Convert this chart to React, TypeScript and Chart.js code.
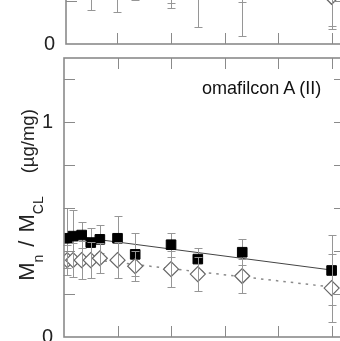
import React, { useEffect, useRef } from "react";
import { Chart, registerables } from "chart.js";

Chart.register(...registerables);

// ---- data ----
const times = [0.06, 0.17, 0.33, 0.5, 0.67, 1.0, 1.33, 2.0, 2.5, 3.33, 5.0];

// lower panel: omafilcon A (II)
const lowerSquares = [0.46, 0.47, 0.475, 0.44, 0.455, 0.46, 0.385, 0.43, 0.363, 0.395, 0.31];
const lowerSquaresErr = [0.14, 0.12, 0.06, 0.07, 0.065, 0.105, 0.1, 0.056, 0.05, 0.06, 0.163];
const lowerDiamonds = [0.358, 0.358, 0.358, 0.358, 0.367, 0.358, 0.33, 0.316, 0.293, 0.284, 0.228];
const lowerDiamondsErr = [0.07, 0.08, 0.09, 0.085, 0.07, 0.085, 0.07, 0.085, 0.08, 0.08, 0.158];
const fitX = [0.06, 5.0];
const lowerFitSolid = [0.473, 0.312];
const lowerFitDotted = [0.374, 0.233];

// upper panel (only its lowest strip is visible)
const upperSquares = [0.62, 0.6, 0.58, 0.56, 0.55, 0.5, 0.48, 0.42, 0.45, 0.4, 0.3];
const upperSquaresErr = [0.1, 0.1, 0.1, 0.1, 0.1, 0.1, 0.1, 0.23, 0.1, 0.205, 0.216];
const upperDiamonds = [0.45, 0.44, 0.42, 0.36, 0.4, 0.34, 0.34, 0.33, 0.31, 0.3, 0.22];
const upperDiamondsErr = [0.1, 0.1, 0.1, 0.2, 0.1, 0.19, 0.135, 0.163, 0.231, 0.263, 0.15];
const upperFitSolid = [0.6, 0.33];
const upperFitDotted = [0.42, 0.24];

const yTickValues = [0, 0.2, 0.4, 0.6, 0.8, 1.0, 1.2];
const yTickLabels = ["0", "", "", "", "", "1", ""];
const xTickValues = [0, 1, 2, 3, 4, 5];

const panelTitle = "omafilcon A (II)";

// ---- styles ----
const FONT = '"Liberation Sans", Arial, Helvetica, sans-serif';
const AXIS = "#8a8a8a";
const ERR = "#969696";

const frameAndTicks = {
  id: "frameAndTicks",
  afterDatasetsDraw(chart: any) {
    const { ctx, chartArea: a } = chart;
    const x = chart.scales.x;
    const y = chart.scales.y;
    const L = 11;
    ctx.save();
    ctx.strokeStyle = AXIS;
    ctx.lineWidth = 1;
    ctx.beginPath();
    x.ticks.forEach((t: any) => {
      const px = Math.round(x.getPixelForValue(t.value)) + 0.5;
      if (px <= a.left + 2 || px >= a.right - 2) return;
      ctx.moveTo(px, a.bottom);
      ctx.lineTo(px, a.bottom - L);
      ctx.moveTo(px, a.top);
      ctx.lineTo(px, a.top + L);
    });
    y.ticks.forEach((t: any) => {
      const py = Math.round(y.getPixelForValue(t.value)) + 0.5;
      if (py <= a.top + 2 || py >= a.bottom - 2) return;
      ctx.moveTo(a.left, py);
      ctx.lineTo(a.left + L, py);
      ctx.moveTo(a.right, py);
      ctx.lineTo(a.right - L, py);
    });
    ctx.stroke();
    ctx.lineWidth = 1.6;
    ctx.strokeRect(a.left, a.top, a.right - a.left, a.bottom - a.top);
    ctx.restore();
  },
};

function drawErrors(chart: any, index: number) {
  const ds = chart.data.datasets[index];
  if (!ds.errors) return;
  const { ctx } = chart;
  const x = chart.scales.x;
  const y = chart.scales.y;
  ctx.save();
  ctx.strokeStyle = ERR;
  ctx.lineWidth = 1;
  ctx.beginPath();
  ds.data.forEach((p: any, i: number) => {
    const e = ds.errors[i];
    const px = Math.round(x.getPixelForValue(p.x)) + 0.5;
    const top = Math.round(y.getPixelForValue(p.y + e)) + 0.5;
    const bot = Math.round(y.getPixelForValue(p.y - e)) + 0.5;
    ctx.moveTo(px, top);
    ctx.lineTo(px, bot);
    ctx.moveTo(px - 4, top);
    ctx.lineTo(px + 4, top);
    ctx.moveTo(px - 4, bot);
    ctx.lineTo(px + 4, bot);
  });
  ctx.stroke();
  ctx.restore();
}

const errorBars = {
  id: "errorBars",
  beforeDatasetDraw(chart: any, args: any) {
    const ds = chart.data.datasets[args.index];
    if (ds.errors && !ds.errorsAbove) drawErrors(chart, args.index);
  },
  afterDatasetDraw(chart: any, args: any) {
    const ds = chart.data.datasets[args.index];
    if (ds.errors && ds.errorsAbove) drawErrors(chart, args.index);
  },
};

type PanelProps = {
  squares: number[];
  squaresErr: number[];
  diamonds: number[];
  diamondsErr: number[];
  fitSolid: number[];
  fitDotted: number[];
  xMin: number;
  xMax: number;
  leftWidth: number;
  padTop: number;
  width: number;
  height: number;
  padRight: number;
  showXLabels: boolean;
  style: React.CSSProperties;
};

function Panel(props: PanelProps) {
  const ref = useRef<HTMLCanvasElement>(null);
  useEffect(() => {
    const canvas = ref.current;
    if (!canvas) return;
    const pts = (ys: number[]) => ys.map((v, i) => ({ x: times[i], y: v }));
    const fit = (ys: number[]) => ys.map((v, i) => ({ x: fitX[i], y: v }));
    const chart = new Chart(canvas, {
      type: "scatter",
      data: {
        datasets: [
          {
            label: "diamonds",
            data: pts(props.diamonds),
            errors: props.diamondsErr,
            errorsAbove: true,
            pointStyle: "rectRot",
            pointRadius: 7.5,
            backgroundColor: "rgba(255,255,255,1)",
            borderColor: "#666",
            borderWidth: 1.2,
            showLine: false,
            order: 0,
          } as any,
          {
            label: "squares",
            data: pts(props.squares),
            errors: props.squaresErr,
            pointStyle: "rect",
            pointRadius: 6.8,
            backgroundColor: "#000",
            borderColor: "#000",
            borderWidth: 1,
            showLine: false,
            order: 1,
          } as any,
          {
            type: "line",
            label: "fit solid",
            data: fit(props.fitSolid),
            borderColor: "#444",
            borderWidth: 1,
            pointRadius: 0,
            fill: false,
            order: 2,
          } as any,
          {
            type: "line",
            label: "fit dotted",
            data: fit(props.fitDotted),
            borderColor: "#8a8a8a",
            borderWidth: 1.5,
            borderDash: [2.5, 5],
            pointRadius: 0,
            fill: false,
            order: 3,
          } as any,
        ],
      },
      options: {
        responsive: false,
        animation: false,
        devicePixelRatio: 1,
        layout: { padding: { top: props.padTop, right: props.padRight, left: 0, bottom: 0 } },
        plugins: { legend: { display: false }, tooltip: { enabled: false } },
        scales: {
          x: {
            type: "linear",
            min: props.xMin,
            max: props.xMax,
            afterBuildTicks: (s: any) => {
              s.ticks = xTickValues.filter((v) => v >= props.xMin && v <= props.xMax).map((v) => ({ value: v }));
            },
            ticks: {
              display: props.showXLabels,
              callback: (v: any) => String(v),
              font: { family: FONT, size: 20 },
              color: "#222",
              padding: 12,
              maxRotation: 0,
              autoSkip: false,
            },
            grid: { display: false },
            border: { display: false },
            afterFit: (s: any) => {
              s.height = 40;
            },
          },
          y: {
            type: "linear",
            min: 0,
            max: 1.3,
            afterBuildTicks: (s: any) => {
              s.ticks = yTickValues.map((v) => ({ value: v }));
            },
            ticks: {
              callback: (v: any) => {
                const i = yTickValues.findIndex((t) => Math.abs(t - Number(v)) < 1e-6);
                return i >= 0 ? yTickLabels[i] : "";
              },
              font: { family: FONT, size: 20 },
              color: "#222",
              padding: 3,
              autoSkip: false,
            },
            grid: { display: false },
            border: { display: false },
            afterFit: (s: any) => {
              s.width = props.leftWidth;
            },
          },
        },
      } as any,
      plugins: [errorBars, frameAndTicks],
    });
    return () => chart.destroy();
  }, []);
  return <canvas ref={ref} width={props.width} height={props.height} style={{ position: "absolute", display: "block", width: props.width, height: props.height, ...props.style }} />;
}

const subStyle: React.CSSProperties = { fontSize: 14, position: "relative", top: 8.5 };

export default function App() {
  return (
    <div
      style={{
        position: "fixed",
        left: 0,
        top: 0,
        width: 340,
        height: 341,
        overflow: "hidden",
        background: "#fff",
      }}
    >
      <Panel
        squares={upperSquares}
        squaresErr={upperSquaresErr}
        diamonds={upperDiamonds}
        diamondsErr={upperDiamondsErr}
        fitSolid={upperFitSolid}
        fitDotted={upperFitDotted}
        xMin={0.04}
        xMax={5.25}
        leftWidth={66}
        padTop={15}
        padRight={35}
        width={380}
        height={334}
        showXLabels={false}
        style={{ left: 0, top: -250 }}
      />
      <Panel
        squares={lowerSquares}
        squaresErr={lowerSquaresErr}
        diamonds={lowerDiamonds}
        diamondsErr={lowerDiamondsErr}
        fitSolid={lowerFitSolid}
        fitDotted={lowerFitDotted}
        xMin={0}
        xMax={5.25}
        leftWidth={64}
        padTop={58}
        padRight={35}
        width={380}
        height={377}
        showXLabels={true}
        style={{ left: 0, top: 0 }}
      />
      <div
        style={{
          position: "absolute",
          left: 202,
          top: 78,
          fontFamily: FONT,
          fontSize: 19,
          lineHeight: "19px",
          color: "#111",
          whiteSpace: "pre",
          transform: "scaleX(0.95)",
          transformOrigin: "left center",
        }}
      >
        {panelTitle}
      </div>
      <div
        style={{
          position: "absolute",
          left: 26.8 - 120,
          top: 195 - 15,
          width: 240,
          height: 30,
          lineHeight: "30px",
          textAlign: "center",
          transform: "rotate(-90deg)",
          fontFamily: FONT,
          fontSize: 22,
          color: "#222",
          whiteSpace: "pre",
        }}
      >
        M<span style={subStyle}>n</span>
        <span style={{ display: "inline-block", width: 8 }} />/<span style={{ display: "inline-block", width: 8 }} />
        M<span style={subStyle}>CL</span>
        <span style={{ display: "inline-block", width: 23 }} />
        <span style={{ fontSize: 18.5 }}>(µg/mg)</span>
      </div>
    </div>
  );
}
